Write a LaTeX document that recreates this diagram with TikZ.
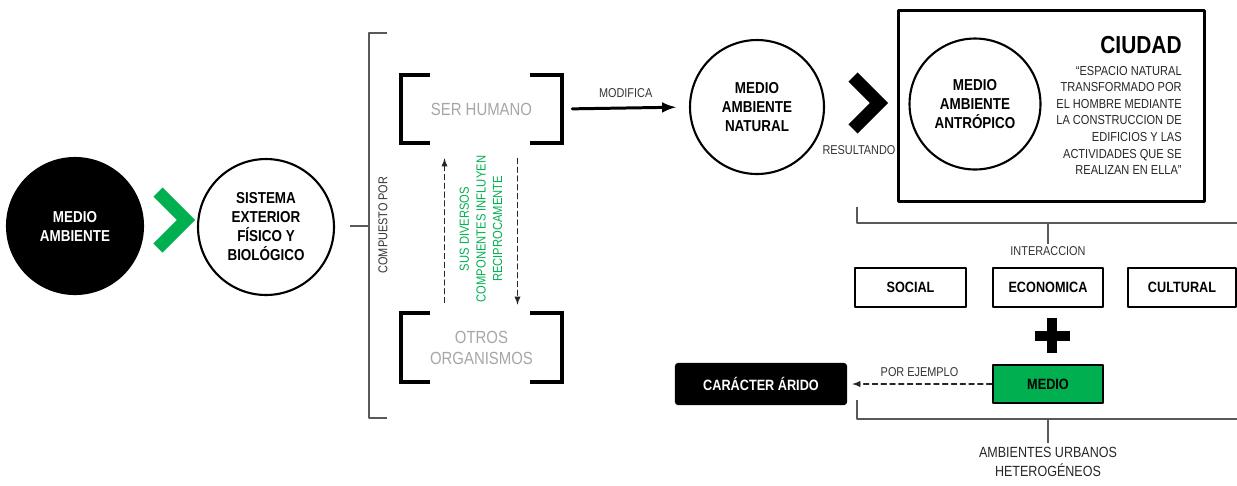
\documentclass[tikz,border=0pt]{standalone}
\usepackage{fontspec}
\setmainfont{Liberation Sans}[FakeStretch=0.85]
\usetikzlibrary{calc,positioning}
\definecolor{verde}{HTML}{00B050}
\definecolor{gris}{HTML}{595959}
\definecolor{grisclaro}{HTML}{A6A6A6}
\tikzset{
  circulo/.style={circle,draw,line width=1.2pt,minimum size=2.72cm,inner sep=0pt,align=center,
    font=\fontsize{9}{10.8}\selectfont\bfseries},
  corchete/.style={line width=2.3pt,line cap=rect,line join=miter},
  chevron/.style={line width=7.4pt,line cap=butt,line join=miter},
  linea/.style={gris,line width=0.8pt,line cap=butt},
  etiqueta/.style={inner sep=1pt,font=\fontsize{7.3}{9}\selectfont,text=black!80},
  caja/.style={draw,line width=1.4pt,minimum width=2.2cm,minimum height=0.78cm,
    font=\fontsize{8.5}{10}\selectfont\bfseries},
  flechapunteada/.style={->,black!85,line width=0.6pt,dash pattern=on 3pt off 2pt}
}
\begin{document}
\begin{tikzpicture}[>=latex,line join=round,line cap=round,x=0.02cm,y=-0.02cm]
  \useasboundingbox (0,0) rectangle (1237,485);
  % medio ambiente
  \node[circulo,fill=black,text=white] (medio) at (75,226) {MEDIO\\AMBIENTE};
  \draw[chevron,verde] (158,192) -- (186,220) -- (158,248);
  \node[circulo] (sistema) at (266,227) {SISTEMA\\EXTERIOR\\FÍSICO Y\\BIOLÓGICO};
  \coordinate (cp) at (369,226);
  \draw[linea] (387,33) -| (369,418) -- (387,418) (350,226) -- (cp);
  \node[etiqueta,rotate=90] (compuesto) at (383,225) {COMPUESTO POR};
  % componentes
  \node[minimum width=3.22cm,minimum height=1.36cm,align=center,text=grisclaro,
    font=\fontsize{10}{12}\selectfont] (ser) at (481.5,109) {SER HUMANO};
  \node[minimum width=3.22cm,minimum height=1.38cm,align=center,text=grisclaro,
    font=\fontsize{10}{12}\selectfont] (otros) at (481.5,347.5) {OTROS\\ORGANISMOS};
  \foreach \n in {ser,otros}{
    \draw[corchete] ($(\n.north west)+(27,0)$) -| (\n.south west) -- ++(27,0);
    \draw[corchete] ($(\n.north east)+(-30,0)$) -| (\n.south east) -- ++(-30,0);
  }
  \draw[flechapunteada] ($(otros.north)+(-37,-10)$) -- ($(ser.south)+(-37,15)$);
  \draw[flechapunteada] ($(ser.south)+(36,15)$) -- ($(otros.north)+(36,-8)$);
  \node[rotate=90,align=center,text=verde,font=\fontsize{7.5}{9.5}\selectfont] (influyen) at (481,229)
    {SUS DIVERSOS\\COMPONENTES INFLUYEN\\RECIPROCAMENTE};
  % medio natural y ciudad
  \node[circulo,minimum size=2.68cm] (natural) at (757,107) {MEDIO\\AMBIENTE\\NATURAL};
  \draw[->,line width=1.7pt,shorten <=0.2cm,shorten >=0.26cm] (ser.east) --
    node[etiqueta,above=4pt] {MODIFICA} (natural.west);
  \draw[chevron] (853,77) -- (879,103) -- (853,129);
  \node[etiqueta] (resultando) at (859,150) {RESULTANDO};
  \node[draw,line width=1.7pt,minimum width=6.14cm,minimum height=3.84cm] (ciudad) at (1051.5,106) {};
  \node[circulo,minimum size=2.62cm] (antropico) at (975,104) {MEDIO\\AMBIENTE\\ANTRÓPICO};
  \node[anchor=east,inner sep=0pt,font=\fontsize{14}{16}\selectfont\bfseries] (titulo) at (1182,45) {CIUDAD};
  \node[anchor=north east,inner sep=0pt,align=right,text=black!85,font=\fontsize{7.4}{9.4}\selectfont]
    (cita) at (1182,66) {“ESPACIO NATURAL\\TRANSFORMADO POR\\EL HOMBRE MEDIANTE\\LA CONSTRUCCION DE\\
    EDIFICIOS Y LAS\\ACTIVIDADES QUE SE\\REALIZAN EN ELLA”};
  % interaccion
  \node[etiqueta] (inter) at (1048,251) {INTERACCION};
  \draw[linea] (857,207) |- (1237,223) (1048,223) -- (inter.north);
  \node[caja,minimum width=2.22cm] (social) at (910.5,287.5) {SOCIAL};
  \node[caja] (economica) at (1048,287.5) {ECONOMICA};
  \node[caja,minimum width=2.16cm] (cultural) at (1182,287.5) {CULTURAL};
  \draw[line width=5.7pt,line cap=butt] (1052,318) -- (1052,353) (1035,335.5) -- (1070,335.5);
  \node[caja,fill=verde,minimum height=0.76cm] (medioverde) at (1048,384) {MEDIO};
  \node[caja,fill=black,text=white,rounded corners=1.5pt,minimum width=3.4cm,minimum height=0.8cm]
    (arido) at (761,384) {CARÁCTER ÁRIDO};
  \draw[flechapunteada,shorten >=0.1cm] (medioverde.west) -- node[etiqueta,above=3pt] {POR EJEMPLO} (arido.east);
  % ambientes urbanos
  \node[align=center,inner sep=0pt,text=black!85,font=\fontsize{8.4}{10.6}\selectfont] (ambientes) at (1048,462)
    {AMBIENTES URBANOS\\HETEROGÉNEOS};
  \draw[linea] (857,400) |- (1237,419) (1048,419) -- ($(ambientes.north)+(0,-4)$);
\end{tikzpicture}
\end{document}
